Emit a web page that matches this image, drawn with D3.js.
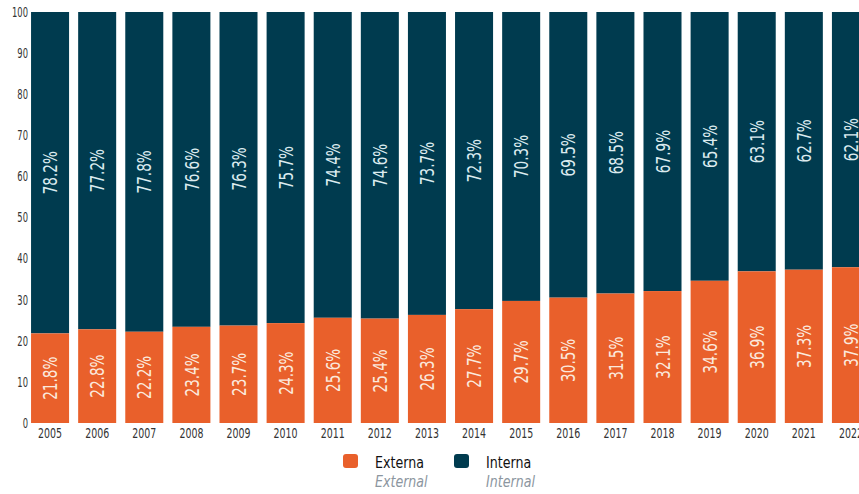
<!DOCTYPE html>
<html>
<head>
<meta charset="utf-8">
<script src="https://cdn.jsdelivr.net/npm/d3@7"></script>
<style>
  body { margin: 0; background: #fff; }
  svg { display: block; font-family: "DejaVu Sans", sans-serif; }
</style>
</head>
<body>
<div id="chart"></div>
<script>
var years = ["2005", "2006", "2007", "2008", "2009", "2010", "2011", "2012", "2013",
  "2014", "2015", "2016", "2017", "2018", "2019", "2020", "2021", "2022"];
var externa = [21.8, 22.8, 22.2, 23.4, 23.7, 24.3, 25.6, 25.4, 26.3, 27.7, 29.7, 30.5, 31.5, 32.1, 34.6, 36.9, 37.3, 37.9];
var interna = [78.2, 77.2, 77.8, 76.6, 76.3, 75.7, 74.4, 74.6, 73.7, 72.3, 70.3, 69.5, 68.5, 67.9, 65.4, 63.1, 62.7, 62.1];
var yTicks = [0, 10, 20, 30, 40, 50, 60, 70, 80, 90, 100];

function init() {
  var w = 859, h = 494;
  var orange = "#E9602B", navy = "#003B4F";

  var svg = d3.select("#chart").append("svg").attr("width", w).attr("height", h);

  var xScale = d3.scaleBand().domain(years).range([26.5, 874.5])
    .paddingInner(0.193).paddingOuter(0.0965);
  var yScale = d3.scaleLinear().domain([0, 100]).range([423, 12]);

  var rows = years.map(function (y, i) {
    return { year: y, ext: externa[i], int: interna[i] };
  });

  // Y axis, labels only (condensed look via scaleX)
  var yAxis = d3.axisLeft(yScale).tickValues(yTicks).tickSize(0).tickPadding(0);
  var gy = svg.append("g").attr("transform", "translate(28,0)").call(yAxis);
  gy.select(".domain").remove();
  gy.selectAll("text").attr("transform", "scale(0.62,1)")
    .style("font-size", "13.5px").style("fill", "#333").style("font-family", "DejaVu Sans, sans-serif");

  // X axis
  var xAxis = d3.axisBottom(xScale).tickSize(0).tickPadding(5);
  var gx = svg.append("g").attr("transform", "translate(0,423)").call(xAxis);
  gx.select(".domain").remove();
  gx.selectAll("text").attr("transform", "scale(0.7,1)")
    .style("font-size", "13.5px").style("fill", "#333").style("font-family", "DejaVu Sans, sans-serif");

  // bars
  var bars = svg.append("g");
  bars.selectAll(".int").data(rows).enter().append("rect")
    .attr("x", function (d) { return xScale(d.year); })
    .attr("width", xScale.bandwidth())
    .attr("y", yScale(100))
    .attr("height", function (d) { return yScale(d.ext) - yScale(100); })
    .attr("fill", navy);
  bars.selectAll(".ext").data(rows).enter().append("rect")
    .attr("x", function (d) { return xScale(d.year); })
    .attr("width", xScale.bandwidth())
    .attr("y", function (d) { return yScale(d.ext); })
    .attr("height", function (d) { return yScale(0) - yScale(d.ext); })
    .attr("fill", orange);

  // value labels, rotated and centred in each segment
  function label(val, lo, hi, color) {
    svg.append("g").selectAll("text").data(rows).enter().append("text")
      .attr("transform", function (d) {
        var cx = xScale(d.year) + xScale.bandwidth() / 2;
        var cy = (yScale(lo(d)) + yScale(hi(d))) / 2;
        return "translate(" + cx + "," + cy + ") rotate(-90) scale(0.68,1)";
      })
      .attr("text-anchor", "middle")
      .attr("dy", "0.36em")
      .style("font-size", "20px")
      .style("fill", color)
      .text(function (d) { return val(d).toFixed(1) + "%"; });
  }
  label(function (d) { return d.ext; }, function () { return 0; }, function (d) { return d.ext; }, "#FBE9DD");
  label(function (d) { return d.int; }, function (d) { return d.ext; }, function () { return 100; }, "#DCEBEF");

  // legend
  var legend = [
    { x: 343, color: orange, es: "Externa", en: "External" },
    { x: 454, color: navy, es: "Interna", en: "Internal" }
  ];
  var lg = svg.append("g").selectAll("g").data(legend).enter().append("g")
    .attr("transform", function (d) { return "translate(" + d.x + ",454)"; });
  lg.append("rect").attr("width", 15).attr("height", 14).attr("rx", 3).attr("fill", function (d) { return d.color; });
  lg.append("text").attr("transform", "translate(32,14) scale(0.79,1)")
    .style("font-size", "16px").style("fill", "#111")
    .text(function (d) { return d.es; });
  lg.append("text").attr("transform", "translate(32,33) scale(0.79,1)")
    .style("font-size", "16px").style("fill", "#8C96A0")
    .style("font-style", "italic").text(function (d) { return d.en; });
}

window.onload = init;
</script>
</body>
</html>
